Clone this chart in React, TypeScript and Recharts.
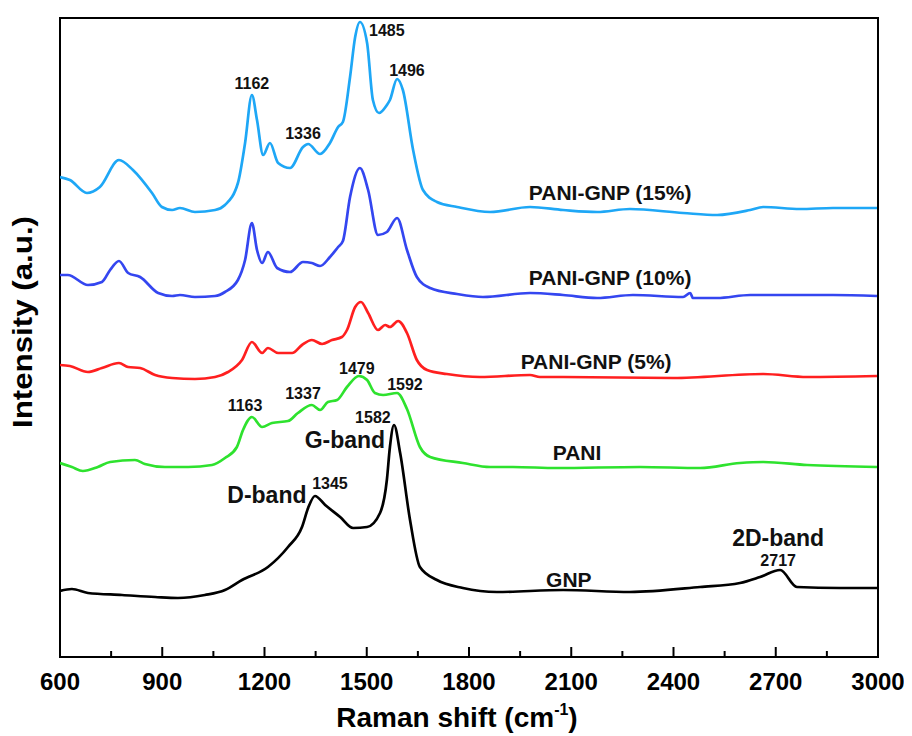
import { LineChart, Line, XAxis, YAxis, ReferenceDot, ReferenceArea } from "recharts";

// Raman spectra, offset stacked (a.u.)
const pani15: [number, number][] = [
  [600, 480], [629, 477], [679, 464], [717, 470], [773, 497], [814, 487], [870, 464], [899, 450],
  [929, 447], [952, 449], [996, 445], [1055, 447], [1084, 452], [1122, 474], [1143, 514], [1163, 562],
  [1178, 537], [1196, 502], [1216, 514], [1240, 494], [1275, 489], [1313, 510], [1328, 513], [1363, 503],
  [1392, 514], [1416, 530], [1430, 535], [1451, 580], [1466, 620], [1480, 635], [1501, 614], [1518, 557],
  [1536, 544], [1559, 552], [1568, 557], [1589, 578], [1606, 567], [1636, 507], [1665, 467], [1706, 455],
  [1765, 450], [1862, 445], [1979, 450], [2076, 447], [2176, 445], [2272, 448], [2428, 444], [2528, 442],
  [2625, 447], [2663, 450], [2771, 448], [2868, 449], [2997, 449],
];

const pani10: [number, number][] = [
  [600, 382], [623, 382], [682, 372], [723, 375], [747, 387], [773, 396], [800, 384], [835, 380],
  [888, 364], [929, 361], [952, 362], [996, 360], [1055, 361], [1084, 365], [1122, 377], [1143, 397],
  [1163, 434], [1178, 407], [1193, 394], [1210, 405], [1237, 389], [1275, 385], [1313, 395], [1339, 394],
  [1363, 391], [1392, 400], [1416, 410], [1430, 416], [1451, 460], [1480, 489], [1504, 467], [1533, 422],
  [1559, 425], [1589, 439], [1618, 407], [1647, 380], [1686, 369], [1765, 363], [1841, 360], [1979, 364],
  [2076, 362], [2176, 359], [2281, 362], [2428, 360], [2449, 364], [2457, 359], [2528, 359], [2625, 362],
  [2721, 362], [2868, 362], [2997, 361],
];

const pani5: [number, number][] = [
  [600, 292], [629, 291], [682, 285], [723, 289], [773, 294], [800, 290], [835, 289], [879, 282],
  [929, 279], [996, 278], [1055, 280], [1093, 285], [1134, 297], [1163, 315], [1193, 304], [1210, 309],
  [1240, 304], [1281, 304], [1310, 312], [1339, 317], [1369, 313], [1398, 317], [1427, 320], [1442, 327],
  [1466, 350], [1483, 355], [1504, 344], [1533, 327], [1554, 332], [1568, 330], [1592, 336], [1618, 324],
  [1647, 297], [1677, 287], [1735, 283], [1832, 280], [1979, 282], [2008, 280], [2076, 280], [2399, 279],
  [2663, 283], [2792, 280], [2997, 281],
];

const pani: [number, number][] = [
  [600, 194], [635, 190], [667, 186], [711, 190], [747, 195], [820, 197], [849, 193], [908, 190],
  [976, 190], [1046, 192], [1084, 199], [1119, 210], [1137, 227], [1163, 240], [1193, 230], [1222, 234],
  [1269, 236], [1298, 244], [1339, 252], [1363, 247], [1386, 255], [1413, 257], [1442, 270], [1477, 281],
  [1501, 277], [1524, 264], [1548, 262], [1589, 264], [1618, 248], [1656, 210], [1686, 200], [1782, 194],
  [1862, 190], [1929, 190], [2058, 189], [2302, 190], [2478, 189], [2595, 194], [2663, 195], [2792, 192],
  [2997, 190],
];

const gnp: [number, number][] = [
  [600, 66], [635, 68], [682, 64], [782, 62], [879, 60], [946, 59], [1025, 62], [1084, 67],
  [1134, 77], [1210, 90], [1269, 110], [1310, 130], [1328, 149], [1348, 161], [1378, 152], [1422, 140],
  [1460, 129], [1501, 130], [1539, 144], [1559, 177], [1568, 210], [1580, 232], [1598, 204], [1627, 137],
  [1656, 90], [1706, 77], [1782, 69], [1882, 65], [2076, 67], [2272, 65], [2478, 70], [2595, 74],
  [2654, 80], [2713, 87], [2762, 70], [2889, 69], [2997, 69],
];

const seriesNames = ["PANI-GNP (15%)", "PANI-GNP (10%)", "PANI-GNP (5%)", "PANI", "GNP"];
const seriesColors = ["#1ea7f6", "#3446f0", "#ff1f1f", "#2ee22e", "#000000"];
const seriesData = [pani15, pani10, pani5, pani, gnp];

const xTicks = [600, 750, 900, 1050, 1200, 1350, 1500, 1650, 1800, 1950, 2100, 2250, 2400, 2550, 2700, 2850, 3000];
const majorTicks = [600, 900, 1200, 1500, 1800, 2100, 2400, 2700, 3000];

// text annotations: [text, wavenumber, intensity, fontSize]
const notes: [string, number, number, number][] = [
  ["1162", 1163, 574, 16],
  ["1336", 1313, 524, 16],
  ["1485", 1559, 627, 16],
  ["1496", 1618, 587, 16],
  ["PANI-GNP (15%)", 2214, 464, 21],
  ["PANI-GNP (10%)", 2214, 379, 21],
  ["PANI-GNP (5%)", 2173, 295, 21],
  ["PANI", 2117, 204, 21],
  ["GNP", 2093, 77, 21],
  ["1163", 1143, 252, 16],
  ["1337", 1313, 264, 16],
  ["1479", 1471, 289, 16],
  ["1592", 1612, 273, 16],
  ["1582", 1518, 240, 16],
  ["G-band", 1436, 217, 23],
  ["D-band", 1207, 162, 23],
  ["1345", 1392, 174, 16],
  ["2D-band", 2707, 119, 23],
  ["2717", 2707, 97, 16],
];

const FONT = "'Liberation Sans', Arial, sans-serif";

function XTick(props: any) {
  const { x, y, payload } = props;
  const major = majorTicks.includes(payload.value);
  return (
    <g>
      <line x1={x} x2={x} y1={y} y2={y - (major ? 10 : 6)} stroke="#000" strokeWidth={2} />
      {major && (
        <text x={x} y={y + 33} textAnchor="middle" fontFamily={FONT} fontWeight={700} fontSize={24} fill="#000">
          {payload.value}
        </text>
      )}
    </g>
  );
}

export default function App() {
  return (
    <LineChart width={896} height={728} margin={{ top: 10, right: 26, bottom: 0, left: 52 }}>
      <XAxis
        type="number"
        dataKey="x"
        domain={[600, 3000]}
        ticks={xTicks}
        interval={0}
        height={79}
        tickSize={0}
        tickMargin={0}
        tickLine={false}
        axisLine={{ stroke: "#000", strokeWidth: 2 }}
        tick={<XTick />}
        allowDataOverflow
      />
      <YAxis type="number" domain={[0, 639]} hide />
      <ReferenceArea x1={600} x2={3000} y1={0} y2={639} fill="none" stroke="#000" strokeWidth={2} />
      {seriesData.map((s, i) => (
        <Line
          key={seriesNames[i]}
          data={s.map(([x, y]) => ({ x, y }))}
          dataKey="y"
          name={seriesNames[i]}
          type="monotone"
          stroke={seriesColors[i]}
          strokeWidth={2.7}
          dot={false}
          isAnimationActive={false}
        />
      ))}
      {notes.map(([text, x, y, size], i) => (
        <ReferenceDot
          key={i}
          x={x}
          y={y}
          r={0}
          fill="none"
          stroke="none"
          ifOverflow="visible"
          label={{ value: text, position: "center", fontSize: size, fontWeight: 700, fill: "#111", fontFamily: FONT }}
        />
      ))}
      <text x={449} y={719} textAnchor="middle" fontFamily={FONT} fontWeight={700} fontSize={28} fill="#000">
        Raman shift (cm<tspan dy={-12} fontSize={16}>-1</tspan><tspan dy={12}>)</tspan>
      </text>
      <text
        x={14}
        y={314}
        transform="rotate(-90, 14, 314)"
        textAnchor="middle"
        dominantBaseline="central"
        fontFamily={FONT}
        fontWeight={700}
        fontSize={28}
        textLength={212}
        lengthAdjust="spacingAndGlyphs"
        fill="#000"
      >
        Intensity (a.u.)
      </text>
    </LineChart>
  );
}
